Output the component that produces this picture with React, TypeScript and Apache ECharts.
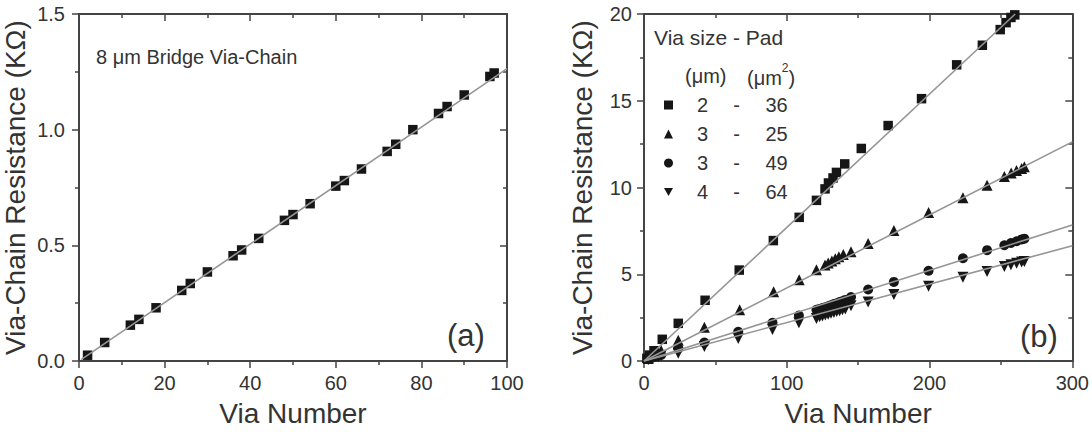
import React, { useEffect, useRef } from "react";
import * as echarts from "echarts";

// ---- Panel (a): 8 um bridge via-chain ----
const viaA = [2, 6, 12, 14, 18, 24, 26, 30, 36, 38, 42, 48, 50, 54, 60, 62, 66, 72, 74, 78, 84, 86, 90, 96, 97];
const resA = [0.025, 0.08, 0.155, 0.18, 0.23, 0.305, 0.335, 0.385, 0.455, 0.48, 0.53, 0.608, 0.633, 0.68, 0.756, 0.78, 0.83, 0.906, 0.937, 1.0, 1.07, 1.1, 1.15, 1.23, 1.245];
const fitA = [[0.5, 0.006], [100, 1.264]];

// ---- Panel (b): via size - pad ----
const viaSizes = ["2", "3", "3", "4"];
const padAreas = ["36", "25", "49", "64"];

const x2_36 = [2, 4, 7, 12.8, 24, 42.8, 66.7, 90.6, 108.7, 120.8, 126.8, 129.2, 132.4, 134.8, 140.6, 152.2, 171, 194.4, 219, 237, 249.5, 253.6, 257, 259.7];
const y2_36 = [0.15, 0.34, 0.59, 1.25, 2.17, 3.5, 5.24, 6.94, 8.28, 9.26, 9.92, 10.26, 10.55, 10.87, 11.36, 12.25, 13.57, 15.12, 17.07, 18.2, 19.1, 19.5, 19.8, 19.95];

const x3_25 = [3, 6, 10, 12, 24, 24, 42.3, 67, 90.8, 108.7, 120.8, 126.8, 129, 131.6, 134, 136.5, 139.6, 145, 157, 175, 199.3, 223.4, 240.3, 252.4, 257.2, 260.9, 264.5, 266.4];
const y3_25 = [0.15, 0.3, 0.45, 0.6, 1.0, 1.2, 1.95, 2.95, 3.99, 4.69, 5.26, 5.54, 5.65, 5.77, 5.9, 6.01, 6.14, 6.3, 6.77, 7.52, 8.56, 9.41, 10.13, 10.64, 10.83, 10.98, 11.1, 11.2];

const x3_49 = [3, 6, 10, 12, 24, 42.3, 66, 90, 108.5, 120.8, 123, 125, 127, 129, 131, 133, 135, 137, 139, 141, 145, 157, 175, 199.3, 223.4, 240.3, 252.4, 257, 261, 264.5, 266.4];
const y3_49 = [0.1, 0.2, 0.3, 0.35, 0.72, 1.06, 1.68, 2.2, 2.62, 2.95, 3.0, 3.05, 3.1, 3.15, 3.22, 3.28, 3.33, 3.4, 3.45, 3.52, 3.69, 4.12, 4.56, 5.2, 5.92, 6.39, 6.67, 6.8, 6.9, 7.01, 7.05];

const x4_64 = [3, 6, 10, 12, 24, 42.3, 66, 90, 108.5, 120.8, 123, 125, 127, 129, 131, 133, 135, 137, 139, 141, 145, 157, 175, 199.3, 223.4, 240.3, 252.4, 257, 261, 264.5, 266.4];
const y4_64 = [0.08, 0.15, 0.25, 0.3, 0.45, 0.83, 1.3, 1.82, 2.2, 2.45, 2.55, 2.6, 2.65, 2.7, 2.75, 2.8, 2.85, 2.9, 2.95, 3.0, 3.18, 3.4, 3.84, 4.31, 4.82, 5.16, 5.44, 5.55, 5.63, 5.7, 5.73];

const fit2_36 = [[0, 0], [260, 20]];
const fit3_25 = [[0, 0], [300, 12.63]];
const fit3_49 = [[0, 0], [300, 7.84]];
const fit4_64 = [[0, 0], [300, 6.64]];

const FONT = "'Liberation Sans', Arial, Helvetica, sans-serif";
const AXIS_COLOR = "#444";
const TEXT_COLOR = "#333";
const MARK_COLOR = "#161616";
const FIT_COLOR = "#959595";

const zip = (xs: number[], ys: number[]) => xs.map((x, i) => [x, ys[i]]);

function makeAxis(opts: {
  gridIndex: number;
  position: string;
  min: number;
  max: number;
  interval: number;
  labels: boolean;
  labelMargin?: number;
  formatter?: (v: number) => string;
  name?: string;
  nameGap?: number;
}) {
  const mirror = !opts.labels;
  return {
    type: "value",
    gridIndex: opts.gridIndex,
    position: opts.position,
    min: opts.min,
    max: opts.max,
    interval: opts.interval,
    name: opts.name,
    nameLocation: "middle",
    nameGap: opts.nameGap,
    nameTextStyle: { fontSize: 28, color: TEXT_COLOR, fontFamily: FONT },
    axisLine: { show: true, onZero: false, lineStyle: { color: AXIS_COLOR, width: 2 } },
    axisTick: { show: true, inside: mirror, length: 7, lineStyle: { color: AXIS_COLOR, width: 1.5 } },
    minorTick: { show: true, splitNumber: 2, length: 4, lineStyle: { color: AXIS_COLOR, width: 1.5 } },
    axisLabel: {
      show: opts.labels,
      margin: opts.labelMargin ?? 12,
      fontSize: 20,
      color: TEXT_COLOR,
      fontFamily: FONT,
      formatter: opts.formatter,
    },
    splitLine: { show: false },
    minorSplitLine: { show: false },
  };
}

const names = viaSizes.map((v, i) => `${v} - ${padAreas[i]}`);
const invTri = "path://M0,0L10,0L5,9Z";

export default function App() {
  const ref = useRef<HTMLDivElement>(null);
  useEffect(() => {
    if (!ref.current) return;
    const chart = echarts.init(ref.current, undefined, { renderer: "svg" });
    const scatter = (name: string, xi: number, yi: number, data: number[][], symbol: string, size: number) => ({
      type: "scatter",
      name,
      xAxisIndex: xi,
      yAxisIndex: yi,
      data,
      symbol,
      symbolSize: size,
      itemStyle: { color: MARK_COLOR, opacity: 1 },
      z: 2,
    });
    const fit = (xi: number, yi: number, data: number[][]) => ({
      type: "line",
      xAxisIndex: xi,
      yAxisIndex: yi,
      data,
      symbol: "none",
      lineStyle: { color: FIT_COLOR, width: 1.6 },
      z: 3,
      silent: true,
      clip: true,
    });
    chart.setOption({
      animation: false,
      backgroundColor: "#fff",
      textStyle: { fontFamily: FONT },
      grid: [
        { left: 77, right: 585, top: 14, bottom: 68 },
        { left: 644, right: 15, top: 14, bottom: 64 },
      ],
      xAxis: [
        makeAxis({ gridIndex: 0, position: "bottom", min: 0, max: 100, interval: 20, labels: true, name: "Via Number", nameGap: 38 }),
        makeAxis({ gridIndex: 0, position: "top", min: 0, max: 100, interval: 20, labels: false }),
        makeAxis({ gridIndex: 1, position: "bottom", min: 0, max: 300, interval: 100, labels: true, name: "Via Number", nameGap: 38 }),
        makeAxis({ gridIndex: 1, position: "top", min: 0, max: 300, interval: 100, labels: false }),
      ],
      yAxis: [
        makeAxis({ gridIndex: 0, position: "left", min: 0, max: 1.5, interval: 0.5, labels: true, labelMargin: 14, formatter: (v: number) => v.toFixed(1), name: "Via-Chain Resistance (KΩ)", nameGap: 50 }),
        makeAxis({ gridIndex: 0, position: "right", min: 0, max: 1.5, interval: 0.5, labels: false }),
        makeAxis({ gridIndex: 1, position: "left", min: 0, max: 20, interval: 5, labels: true, labelMargin: 12, name: "Via-Chain Resistance (KΩ)", nameGap: 48 }),
        makeAxis({ gridIndex: 1, position: "right", min: 0, max: 20, interval: 5, labels: false }),
      ],
      legend: {
        data: names,
        orient: "vertical",
        left: 664,
        top: 95,
        itemWidth: 9,
        itemHeight: 9,
        itemGap: 9,
        padding: 0,
        selectedMode: false,
        formatter: (name: string) => {
          const i = names.indexOf(name);
          return `{a|${viaSizes[i]}}{b|-}{c|${padAreas[i]}}`;
        },
        textStyle: {
          color: TEXT_COLOR,
          fontFamily: FONT,
          fontSize: 20,
          rich: {
            a: { width: 49, align: "center", fontSize: 20, lineHeight: 20, color: TEXT_COLOR, fontFamily: FONT },
            b: { width: 19, align: "center", fontSize: 20, lineHeight: 20, color: TEXT_COLOR, fontFamily: FONT },
            c: { width: 61, align: "center", fontSize: 20, lineHeight: 20, color: TEXT_COLOR, fontFamily: FONT },
          },
        },
      },
      series: [
        scatter("a", 0, 0, zip(viaA, resA), "rect", 9.5),
        fit(0, 0, fitA),
        scatter(names[0], 2, 2, zip(x2_36, y2_36), "rect", 9.5),
        scatter(names[1], 2, 2, zip(x3_25, y3_25), "triangle", 11),
        scatter(names[2], 2, 2, zip(x3_49, y3_49), "circle", 10),
        scatter(names[3], 2, 2, zip(x4_64, y4_64), invTri, 11),
        fit(2, 2, fit2_36),
        fit(2, 2, fit3_25),
        fit(2, 2, fit3_49),
        fit(2, 2, fit4_64),
      ],
      graphic: [
        { type: "text", left: 96, top: 47, style: { text: "8 μm Bridge Via-Chain", fontSize: 20, fill: TEXT_COLOR, fontFamily: FONT } },
        { type: "text", left: 447, top: 320, style: { text: "(a)", fontSize: 31, fill: TEXT_COLOR, fontFamily: FONT } },
        { type: "text", left: 1020, top: 321, style: { text: "(b)", fontSize: 31, fill: TEXT_COLOR, fontFamily: FONT } },
        { type: "text", left: 654, top: 27, style: { text: "Via size - Pad", fontSize: 21, fill: TEXT_COLOR, fontFamily: FONT } },
        { type: "text", left: 685, top: 66, style: { text: "(μm)", fontSize: 20, fill: TEXT_COLOR, fontFamily: FONT } },
        {
          type: "text",
          left: 747,
          top: 62,
          style: {
            text: "{n|(μm}{s|2}{n|)}",
            fontFamily: FONT,
            rich: {
              n: { fontSize: 20, fill: TEXT_COLOR, fontFamily: FONT, verticalAlign: "bottom", lineHeight: 26 },
              s: { fontSize: 12, fill: TEXT_COLOR, fontFamily: FONT, verticalAlign: "top", lineHeight: 26 },
            },
          },
        },
      ],
    });
    return () => chart.dispose();
  }, []);
  return <div ref={ref} style={{ position: "fixed", left: 0, top: 0, width: 1092, height: 432, background: "#fff" }} />;
}
